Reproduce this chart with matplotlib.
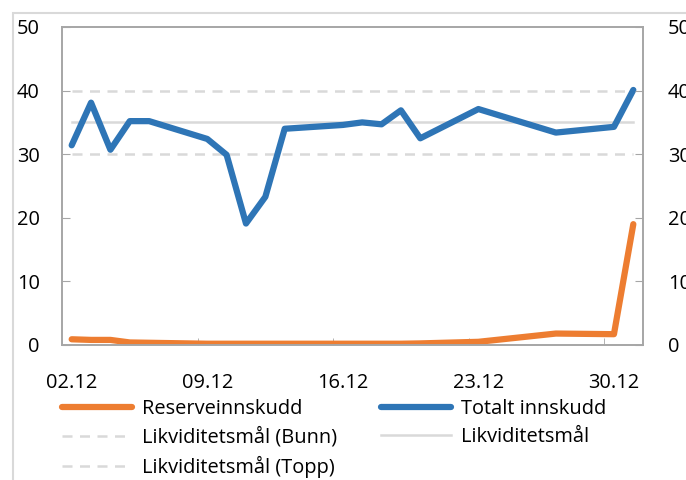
import matplotlib
matplotlib.use("Agg")
import matplotlib.pyplot as plt
import matplotlib.dates as mdates
import pandas as pd
from matplotlib.patches import Rectangle

# business days in December 2024
dates = pd.to_datetime([
    "2024-12-02", "2024-12-03", "2024-12-04", "2024-12-05", "2024-12-06",
    "2024-12-09", "2024-12-10", "2024-12-11", "2024-12-12", "2024-12-13",
    "2024-12-16", "2024-12-17", "2024-12-18", "2024-12-19", "2024-12-20",
    "2024-12-23", "2024-12-27", "2024-12-30", "2024-12-31",
])
reserveinnskudd = [0.9, 0.8, 0.8, 0.4, 0.35,
                   0.2, 0.2, 0.2, 0.2, 0.2,
                   0.2, 0.2, 0.2, 0.2, 0.25,
                   0.5, 1.8, 1.7, 19.0]
totalt_innskudd = [31.4, 38.1, 30.7, 35.2, 35.2,
                   32.4, 29.9, 19.1, 23.3, 34.0,
                   34.6, 35.0, 34.7, 36.9, 32.5,
                   37.1, 33.4, 34.3, 40.1]
maal_bunn = 30
maal = 35
maal_topp = 40
tick_dates = pd.to_datetime(["2024-12-02", "2024-12-09", "2024-12-16", "2024-12-23", "2024-12-30"])

plt.rcParams["font.family"] = ["Open Sans", "DejaVu Sans"]
plt.rcParams["font.size"] = 14.4

orange = "#ed7d31"
blue = "#2e75b6"
grey = "#d9d9d9"
spine = "#a6a6a6"

fig = plt.figure(figsize=(6.86, 4.8), dpi=100)
ax = fig.add_axes([62 / 686, 1 - 345 / 480, (643 - 62) / 686, (345 - 27) / 480])

n = len(dates)
l_bunn, = ax.plot(dates, [maal_bunn] * n, color=grey, lw=1.8, ls=(0, (4, 3)))
l_topp, = ax.plot(dates, [maal_topp] * n, color=grey, lw=1.8, ls=(0, (4, 3)))
l_maal, = ax.plot(dates, [maal] * n, color=grey, lw=1.8)
l_tot, = ax.plot(dates, totalt_innskudd, color=blue, lw=4.5, solid_capstyle="round", solid_joinstyle="round")
l_res, = ax.plot(dates, reserveinnskudd, color=orange, lw=4.5, solid_capstyle="round", solid_joinstyle="round")

ax.set_xlim(pd.Timestamp("2024-12-01 12:00"), pd.Timestamp("2024-12-31 12:00"))
ax.set_ylim(0, 50)
ax.set_yticks(range(0, 51, 10))
ax.set_xticks(tick_dates)
ax.xaxis.set_major_formatter(mdates.DateFormatter("%d.%m"))
ax.set_xticks(tick_dates - pd.Timedelta(hours=12), minor=True)
ax.tick_params(axis="x", which="major", length=0, pad=20)
ax.tick_params(axis="x", which="minor", length=5, direction="in", color=spine)
ax.tick_params(axis="y", length=6, direction="in", color=spine, pad=16)
for s in ax.spines.values():
    s.set_color(spine)
    s.set_linewidth(1.2)

ax2 = ax.twinx()
ax2.set_ylim(0, 50)
ax2.set_yticks(range(0, 51, 10))
ax2.tick_params(axis="y", length=6, direction="in", color=spine, pad=18)
for s in ax2.spines.values():
    s.set_color(spine)
    s.set_linewidth(1.2)

fig.legend([l_res, l_bunn, l_topp, l_tot, l_maal],
           ["Reserveinnskudd", "Likviditetsmål (Bunn)", "Likviditetsmål (Topp)",
            "Totalt innskudd", "Likviditetsmål"],
           ncol=2, loc="upper left", bbox_to_anchor=(54 / 686, 1 - 391 / 480),
           frameon=False, handlelength=3.5, handletextpad=0.5, columnspacing=2.2,
           labelspacing=0.4, borderaxespad=0)

fig.patches.append(Rectangle((13 / 686, -0.1), 1.0, 1.1 - 13 / 480, transform=fig.transFigure,
                             fill=False, edgecolor="#d9d9d9", lw=1.5))

fig.savefig("out.png", dpi=100)
